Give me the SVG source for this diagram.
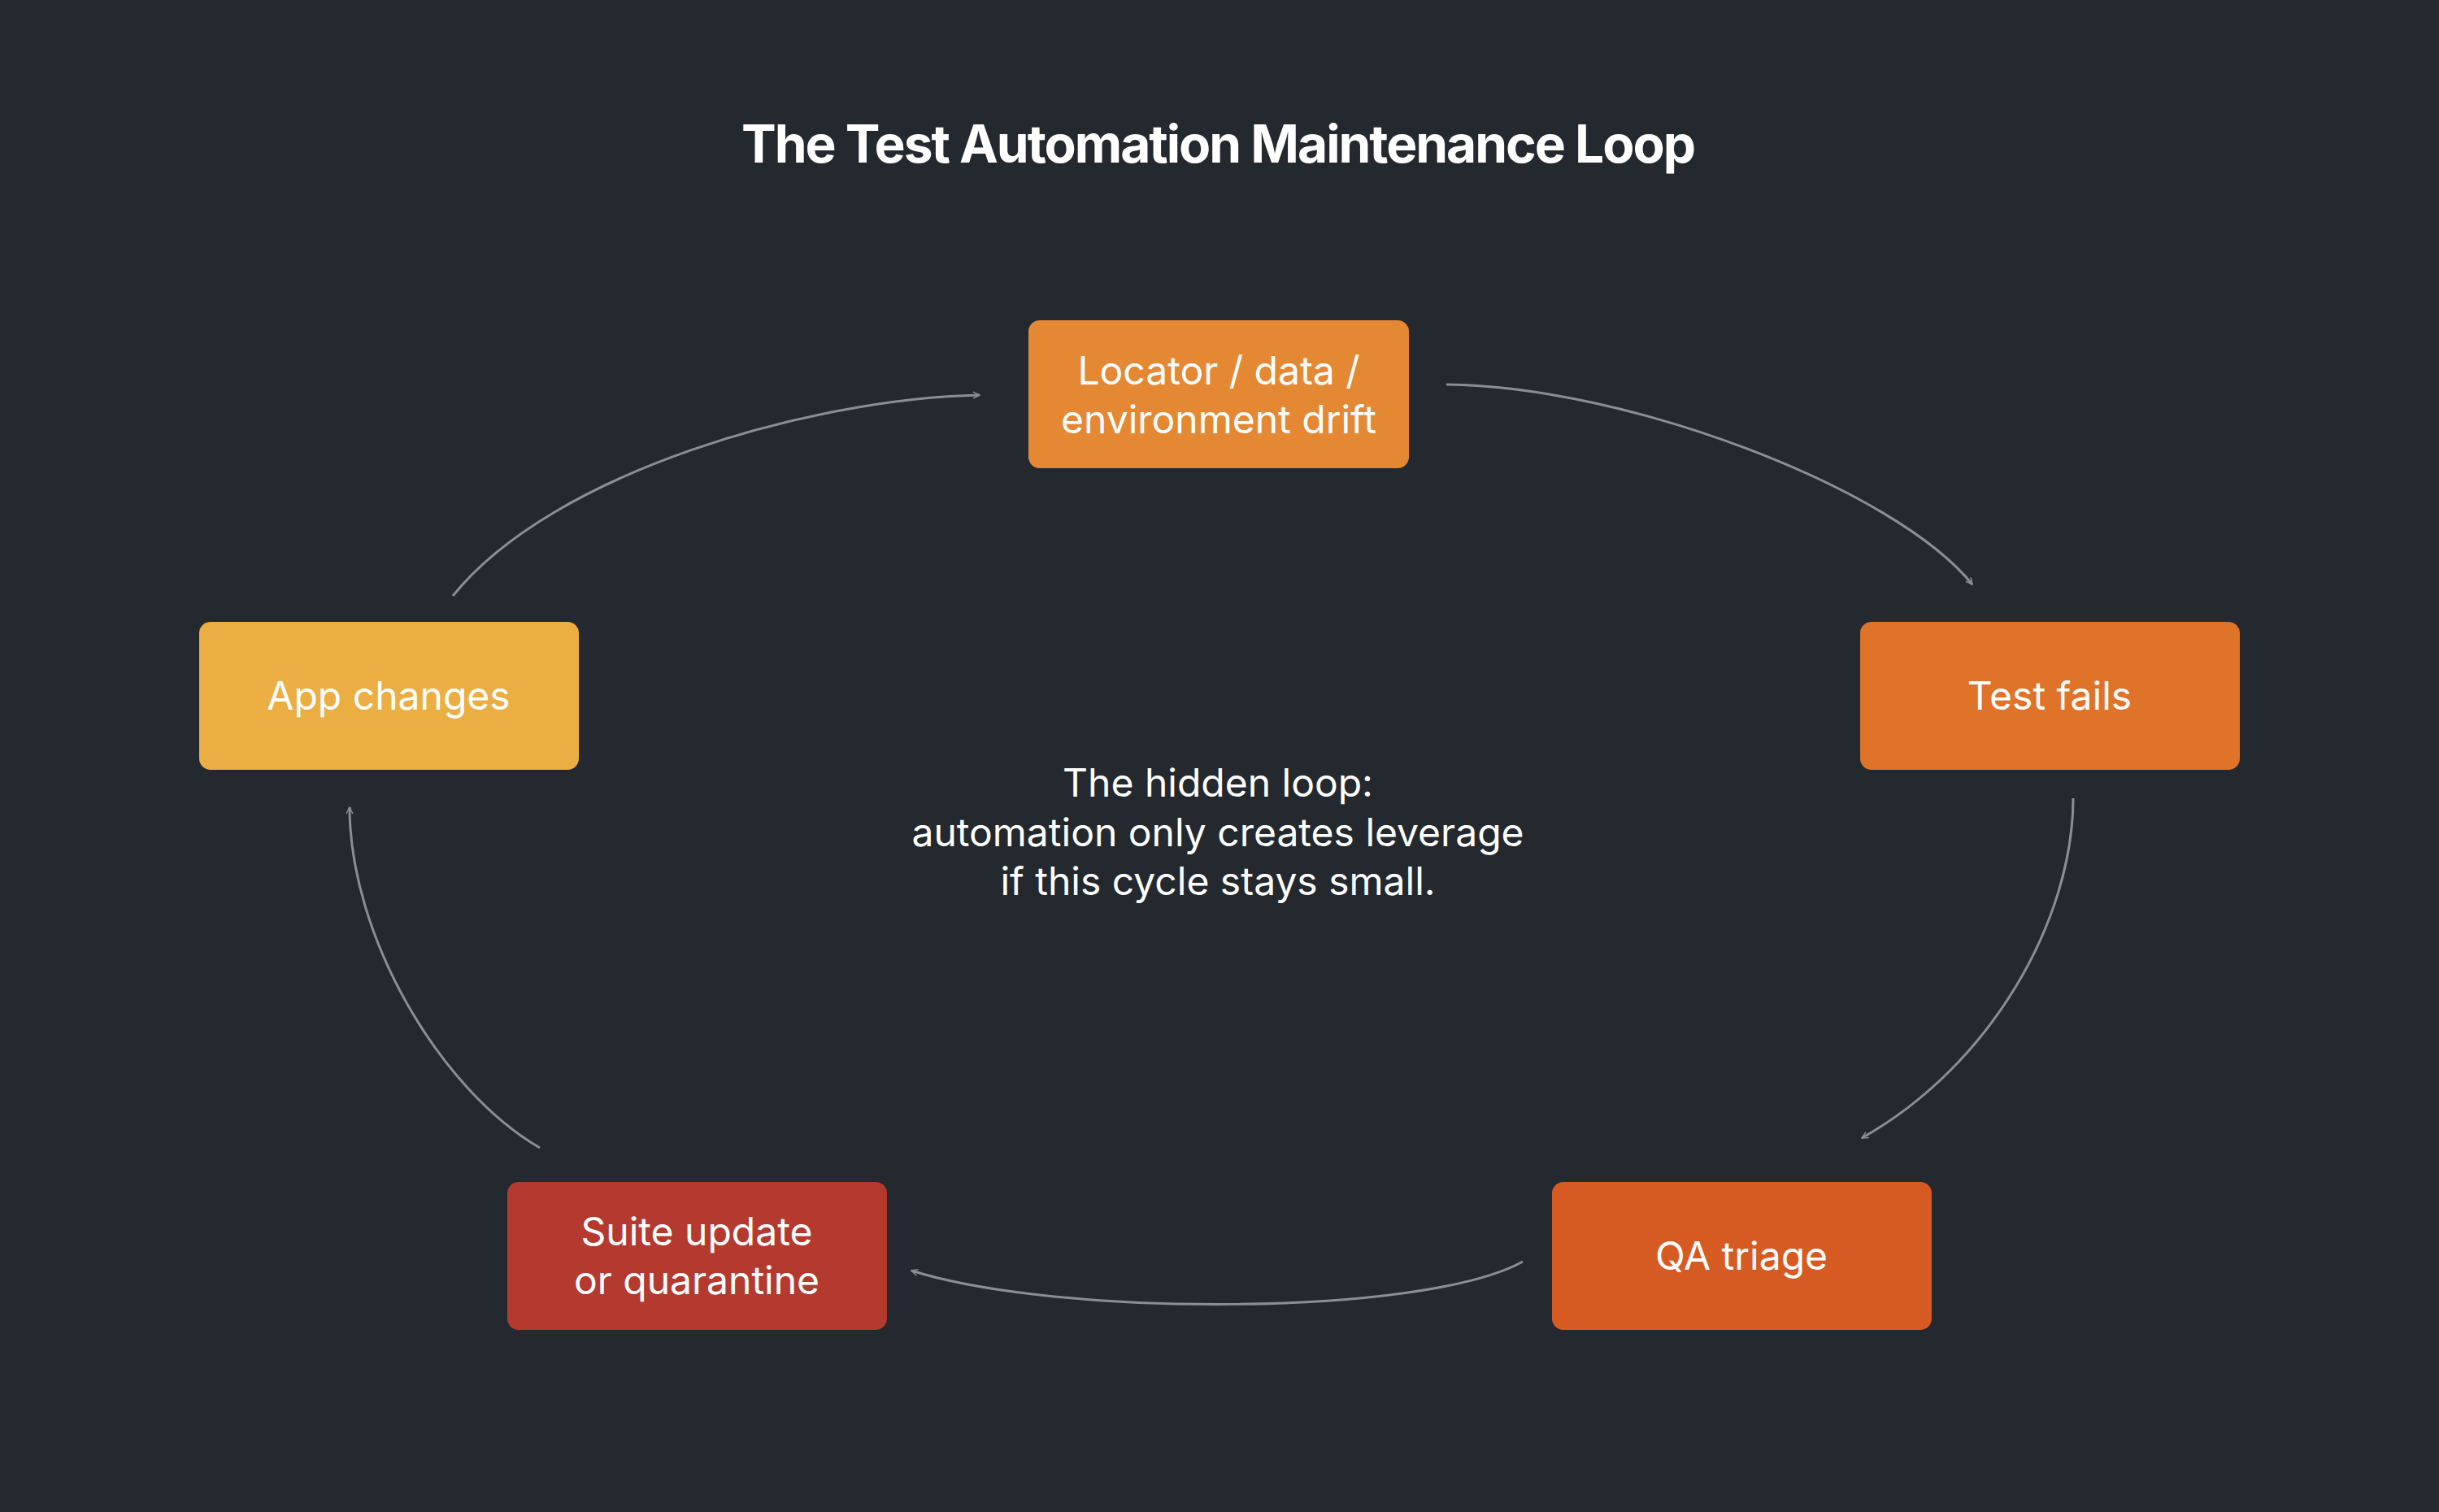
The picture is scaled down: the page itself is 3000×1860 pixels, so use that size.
<svg xmlns="http://www.w3.org/2000/svg" width="3000" height="1860" viewBox="0 0 3000 1860">
<style>
.t{font-family:Inter,"Liberation Sans",sans-serif;fill:#fff;text-anchor:middle}
.n{font-size:48px}
.c{fill:none;stroke:#8a8f94;stroke-width:3;marker-end:url(#a)}
</style>
<defs><marker id="a" viewBox="0 0 20 20" refX="18" refY="10" markerWidth="10" markerHeight="10" markerUnits="userSpaceOnUse" orient="auto"><path d="M2,2 L18,10 L2,18" fill="none" stroke="#8a8f94" stroke-width="3"/></marker></defs>
<rect width="3000" height="1860" fill="#23292e"/>
<text class="t" x="1498" y="200" font-size="64" font-weight="700" letter-spacing="-2">The Test Automation Maintenance Loop</text>
<g id="connectors">
<path class="c" d="M557,733 C680,580 1000,490 1205,486"/>
<path class="c" d="M1779,473 C2000,475 2330,600 2426,719"/>
<path class="c" d="M2550,982 C2550,1130 2450,1310 2290,1400"/>
<path class="c" d="M1873,1552 C1750,1620 1300,1620 1121,1563"/>
<path class="c" d="M664,1412 C540,1340 430,1150 430,993"/>
</g>
<g id="locator"><rect x="1265" y="394" width="468" height="182" rx="14" fill="#e58834"/><text class="t n" x="1499" y="473">Locator / data /</text><text class="t n" x="1499" y="533">environment drift</text></g>
<g id="app"><rect x="245" y="765" width="467" height="182" rx="14" fill="#eaae42"/><text class="t n" x="478" y="873">App changes</text></g>
<g id="testfails"><rect x="2288" y="765" width="467" height="182" rx="14" fill="#df7329"/><text class="t n" x="2521" y="873">Test fails</text></g>
<g id="qa"><rect x="1909" y="1454" width="467" height="182" rx="14" fill="#d65b22"/><text class="t n" x="2142" y="1562">QA triage</text></g>
<g id="suite"><rect x="624" y="1454" width="467" height="182" rx="14" fill="#b43a30"/><text class="t n" x="857" y="1532">Suite update</text><text class="t n" x="857" y="1592">or quarantine</text></g>
<g id="note"><text class="t n" x="1498" y="980">The hidden loop:</text><text class="t n" x="1498" y="1041">automation only creates leverage</text><text class="t n" x="1498" y="1101">if this cycle stays small.</text></g>
</svg>
